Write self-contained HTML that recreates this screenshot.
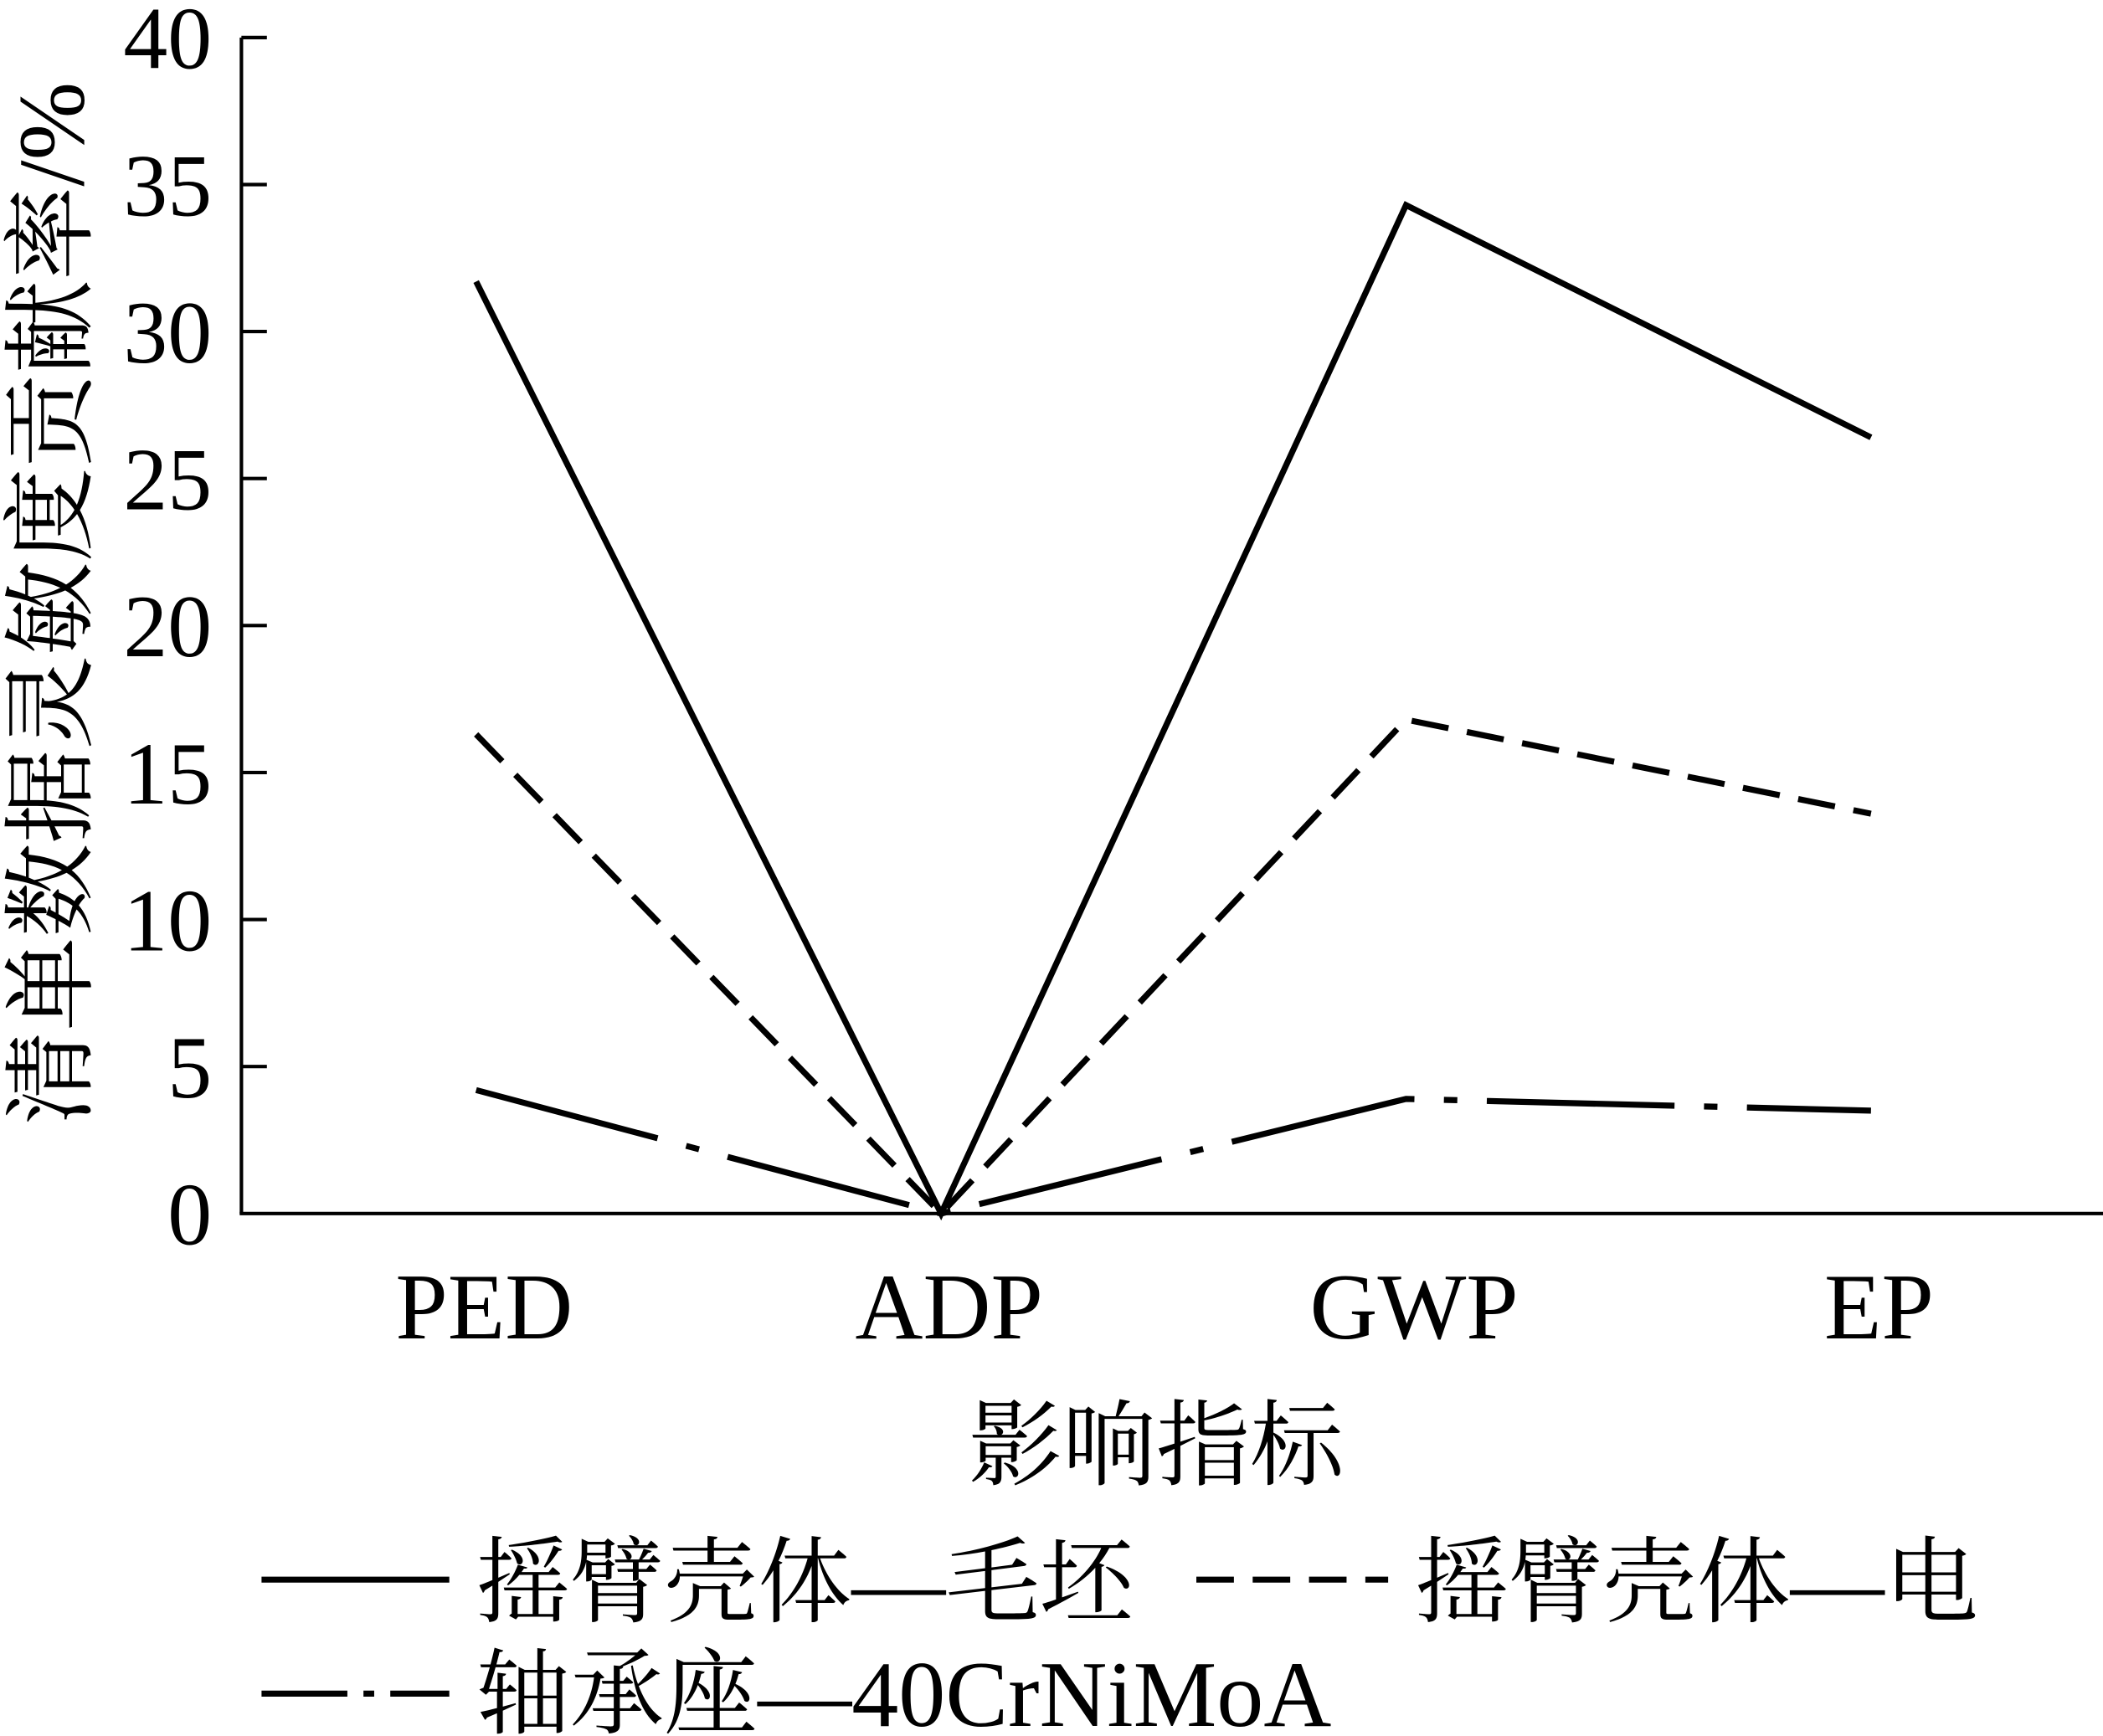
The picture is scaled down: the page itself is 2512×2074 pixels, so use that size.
<!DOCTYPE html>
<html><head><meta charset="utf-8"><style>
html,body{margin:0;padding:0;background:#fff;}
svg{display:block;}
text{font-family:"Liberation Serif","Noto Serif CJK SC","Noto Sans CJK SC",serif;fill:#000;}
</style></head><body>
<svg id="chart" width="2512" height="2074" viewBox="0 0 1568 1294.6" xmlns="http://www.w3.org/2000/svg">
<g id="axes"></g>
<g id="series"></g>
<text x="862" y="1102" font-size="70" text-anchor="middle">影响指标</text>
<text transform="translate(62,450) rotate(-90)" font-size="70" text-anchor="middle">清单数据灵敏度贡献率/%</text>
<g>
<g>
<line x1="195" y1="1178" x2="335" y2="1178" stroke="#000" stroke-width="4.5"/>
<text x="355" y="1204" font-size="70">摇臂壳体—毛坯</text></g>
<g>
<line x1="892" y1="1178" x2="1035" y2="1178" stroke="#000" stroke-width="4.5" stroke-dasharray="28 14"/>
<text x="1055" y="1204" font-size="70">摇臂壳体—电</text></g>
<g>
<line x1="195" y1="1263" x2="335" y2="1263" stroke="#000" stroke-width="4.5" stroke-dasharray="64 12 8 12 200"/>
<text x="355" y="1287" font-size="70">轴承座—40CrNiMoA</text></g>
</g>
</svg>
<script>
const categories = ["PED","ADP","GWP","EP"];
const blankValues = [31.7, 0, 34.3, 26.4];
const electricValues = [16.3, 0, 16.8, 13.6];
const bearingValues = [4.2, 0, 3.9, 3.5];
const yTicks = [0,5,10,15,20,25,30,35,40];
const NS="http://www.w3.org/2000/svg";
const x0=180, y0=905, yTop=28, xRight=1568;
const catX=[355,700,1045,1395];
function xScale(i){return catX[0]+(catX[3]-catX[0])*i/(categories.length-1);}
function yScale(v){return y0-(y0-yTop)*v/40;}
const axes=document.getElementById('axes');
function mk(tag,attrs,parent){const e=document.createElementNS(NS,tag);for(const k in attrs)e.setAttribute(k,attrs[k]);parent.appendChild(e);return e;}
const ya=mk('line',{x1:x0,y1:yTop,x2:x0,y2:y0,stroke:'#000','stroke-width':2.6},axes);


const xa=mk('line',{x1:x0-1.3,y1:y0,x2:xRight,y2:y0,stroke:'#000','stroke-width':2.6},axes);


yTicks.forEach(t=>{
  const y=yScale(t);
  if(t>0){const tk=mk('line',{x1:x0,y1:y,x2:x0+19,y2:y,stroke:'#000','stroke-width':2.6},axes);
  
  }
  const tx=mk('text',{x:158,y:y+23,'font-size':66,'text-anchor':'end'},axes);
  tx.textContent=t;
  
  
});
categories.forEach((c,i)=>{
  const tx=mk('text',{x:xScale(i)+6,y:998,'font-size':70,'text-anchor':'middle'},axes);
  tx.textContent=c;
  
  
});
const sg=document.getElementById('series');
function drawLine(vals,dash,name){
  const pts=vals.map((v,i)=>xScale(i)+','+yScale(v)).join(' ');
  const p=mk('polyline',{points:pts,fill:'none',stroke:'#000','stroke-width':4.5,'stroke-linejoin':'miter'},sg);
  if(dash)p.setAttribute('stroke-dasharray',dash);
  
  
}
drawLine(blankValues,null,'series-blank-line');
drawLine(electricValues,'28 14','series-electric-line');
drawLine(bearingValues,'140 22 10 22','series-bearing-line');
</script>
</body></html>
